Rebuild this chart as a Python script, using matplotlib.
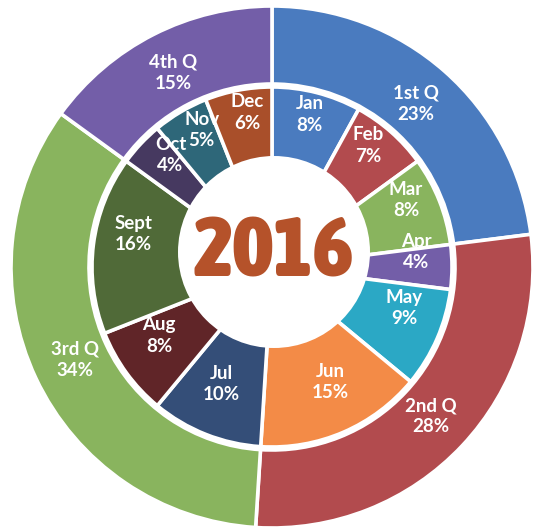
import numpy as np
import matplotlib
matplotlib.use("Agg")
import matplotlib.pyplot as plt
from matplotlib.patches import Circle
from matplotlib import font_manager

# Données
quarters = ["1st Q", "2nd Q", "3rd Q", "4th Q"]
quarter_pct = [23, 28, 34, 15]
quarter_colors = ["#4A7BBF", "#B24B4E", "#89B45E", "#735EA8"]

months = ["Jan", "Feb", "Mar", "Apr", "May", "Jun",
          "Jul", "Aug", "Sept", "Oct", "Nov", "Dec"]
month_pct = [8, 7, 8, 4, 9, 15, 10, 8, 16, 4, 5, 6]
month_colors = ["#4A7BBF", "#B24B4E", "#89B45E", "#735EA8", "#2BA8C5", "#F38B47",
                "#344E78", "#602528", "#506A38", "#463960", "#2E6779", "#A94F2A"]

year_label = "2016"

# Figure en coordonnées pixels (y vers le haut)
W, H = 533, 527
fig = plt.figure(figsize=(W / 100, H / 100), dpi=100)
ax = fig.add_axes([0, 0, 1, 1])

ring_c = (272, H - 267)
hole_c = (274, H - 252)

wp = dict(edgecolor="white", linewidth=2.6)
ax.pie(quarter_pct, colors=quarter_colors, radius=261, center=ring_c,
       startangle=90, counterclock=False, wedgeprops=dict(width=78, **wp))
ax.pie(month_pct, colors=month_colors, radius=180, center=ring_c,
       startangle=90, counterclock=False, wedgeprops=dict(width=120, **wp))

# Trou central
ax.add_patch(Circle(hole_c, 96, facecolor="white", edgecolor="none", zorder=5))


def place_labels(names, pct, center, r, **kw):
    cum = np.cumsum([0] + list(pct))
    mids = (cum[:-1] + cum[1:]) / 2 / cum[-1] * 360
    for name, p, m in zip(names, pct, mids):
        a = np.deg2rad(90 - m)
        ax.text(center[0] + r * np.cos(a), center[1] + r * np.sin(a),
                f"{name}\n{p}%", ha="center", va="center", color="white",
                linespacing=1.3, zorder=6, **kw)


place_labels(quarters, quarter_pct, ring_c, 218,
             fontsize=13.5, fontweight="bold", family="Lato")
place_labels(months, month_pct, hole_c, 142,
             fontsize=13.5, fontweight="bold", family="Lato")

# police la plus étroite et la plus grasse disponible pour l'année
stretch_rank = {"ultra-condensed": 0, "extra-condensed": 1, "condensed": 2,
                "semi-condensed": 3}


def to_weight(w):
    return w if isinstance(w, int) else font_manager.weight_dict.get(w, 400)


best, best_key = None, None
for f in font_manager.fontManager.ttflist:
    wt = to_weight(f.weight)
    st = f.stretch if isinstance(f.stretch, str) else "normal"
    rank = stretch_rank.get(st, 9)
    if "Narrow" in f.name:
        rank = min(rank, 2)
    if rank == 9 or wt < 700 or "italic" in f.style or "oblique" in f.style:
        continue
    key = (rank, -wt)
    if best_key is None or key < best_key:
        best, best_key = f, key

if best is not None:
    year_font = dict(fontproperties=font_manager.FontProperties(fname=best.fname))
else:
    year_font = dict(family="Liberation Sans", fontweight="bold")

t = ax.text(hole_c[0], hole_c[1] - 1, year_label, ha="center", va="center",
            color="#B5522A", zorder=7, **year_font)
t.set_fontsize(60)
# ajuster la taille pour une largeur d'environ 160 px
fig.canvas.draw()
w = t.get_window_extent().width
t.set_fontsize(60 * 160 / w)

ax.set_xlim(0, W)
ax.set_ylim(0, H)
ax.set_aspect("equal")
ax.axis("off")

fig.savefig("out.png", dpi=100)
